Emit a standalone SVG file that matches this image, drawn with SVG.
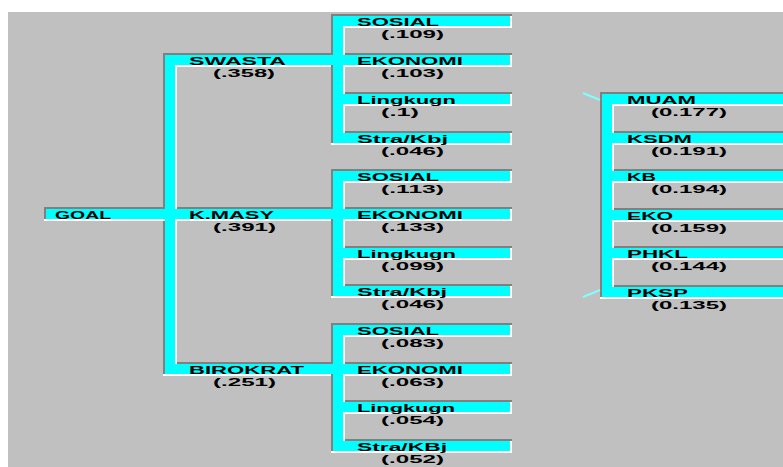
<svg xmlns="http://www.w3.org/2000/svg" width="783" height="467" viewBox="0 0 783 467">
  <style>
    .dk { fill: #808080; }
    .wh { fill: #ffffff; }
    .cy { fill: #00ffff; }
    .dg { stroke: #7fffff; stroke-width: 2; fill: none; }
    text { font-family: "Liberation Sans", Arial, sans-serif; font-weight: bold; font-size: 11.5px; fill: #000; }
  </style>

  <!-- window background -->
  <rect x="0" y="0" width="783" height="467" fill="#ffffff"/>
  <rect x="8" y="12" width="775" height="455" fill="#c0c0c0"/>

  <g id="connectors">
    <!-- dark (upper/left) groove edges -->
    <g class="dk">
      <!-- level 1/2 -->
      <rect x="44" y="207" width="289" height="2"/>
      <rect x="44" y="207" width="2" height="12"/>
      <rect x="163" y="53" width="2" height="321"/>
      <rect x="163" y="53" width="170" height="2"/>
      <rect x="177" y="362" width="154" height="2"/>
      <!-- group 1 -->
      <rect x="331" y="14" width="2" height="129"/>
      <rect x="331" y="14" width="181" height="2"/>
      <rect x="345" y="53" width="167" height="2"/>
      <rect x="345" y="92" width="167" height="2"/>
      <rect x="345" y="131" width="167" height="2"/>
      <!-- group 2 -->
      <rect x="331" y="169" width="2" height="127"/>
      <rect x="331" y="169" width="181" height="2"/>
      <rect x="345" y="207" width="167" height="2"/>
      <rect x="345" y="246" width="167" height="2"/>
      <rect x="345" y="284" width="167" height="2"/>
      <!-- group 3 -->
      <rect x="331" y="323" width="2" height="128"/>
      <rect x="331" y="323" width="181" height="2"/>
      <rect x="345" y="362" width="167" height="2"/>
      <rect x="345" y="400" width="167" height="2"/>
      <rect x="345" y="439" width="167" height="2"/>
      <!-- right group -->
      <rect x="600" y="92" width="2" height="205"/>
      <rect x="600" y="92" width="183" height="2"/>
      <rect x="614" y="131" width="169" height="2"/>
      <rect x="614" y="169" width="169" height="2"/>
      <rect x="614" y="208" width="169" height="2"/>
      <rect x="614" y="246" width="169" height="2"/>
      <rect x="614" y="285" width="169" height="2"/>
    </g>

    <!-- white (lower/right) groove edges -->
    <g class="wh">
      <!-- level 1/2 -->
      <rect x="44" y="219" width="287" height="2"/>
      <rect x="165" y="65" width="166" height="2"/>
      <rect x="175" y="65" width="2" height="299"/>
      <rect x="163" y="374" width="168" height="2"/>
      <!-- group 1 -->
      <rect x="343" y="26" width="2" height="107"/>
      <rect x="343" y="26" width="169" height="2"/>
      <rect x="343" y="65" width="169" height="2"/>
      <rect x="343" y="104" width="169" height="2"/>
      <rect x="331" y="143" width="181" height="2"/>
      <rect x="510" y="16" width="2" height="10"/>
      <rect x="510" y="55" width="2" height="10"/>
      <rect x="510" y="94" width="2" height="10"/>
      <rect x="510" y="133" width="2" height="10"/>
      <!-- group 2 -->
      <rect x="343" y="181" width="2" height="105"/>
      <rect x="343" y="181" width="169" height="2"/>
      <rect x="343" y="219" width="169" height="2"/>
      <rect x="343" y="258" width="169" height="2"/>
      <rect x="331" y="296" width="181" height="2"/>
      <rect x="510" y="171" width="2" height="10"/>
      <rect x="510" y="209" width="2" height="10"/>
      <rect x="510" y="248" width="2" height="10"/>
      <rect x="510" y="286" width="2" height="10"/>
      <!-- group 3 -->
      <rect x="343" y="335" width="2" height="106"/>
      <rect x="343" y="335" width="169" height="2"/>
      <rect x="343" y="374" width="169" height="2"/>
      <rect x="343" y="412" width="169" height="2"/>
      <rect x="331" y="451" width="181" height="2"/>
      <rect x="510" y="325" width="2" height="10"/>
      <rect x="510" y="364" width="2" height="10"/>
      <rect x="510" y="402" width="2" height="10"/>
      <rect x="510" y="441" width="2" height="10"/>
      <!-- right group -->
      <rect x="612" y="104" width="2" height="183"/>
      <rect x="612" y="104" width="171" height="2"/>
      <rect x="612" y="143" width="171" height="2"/>
      <rect x="612" y="181" width="171" height="2"/>
      <rect x="612" y="220" width="171" height="2"/>
      <rect x="612" y="258" width="171" height="2"/>
      <rect x="600" y="297" width="183" height="2"/>
    </g>

    <!-- cyan bars -->
    <g class="cy">
      <!-- GOAL through K.MASY -->
      <rect x="46" y="209" width="287" height="10"/>
      <rect x="165" y="55" width="168" height="10"/>
      <rect x="165" y="364" width="168" height="10"/>
      <rect x="165" y="55" width="10" height="319"/>
      <!-- group 1 -->
      <rect x="333" y="16" width="10" height="127"/>
      <rect x="333" y="16" width="177" height="10"/>
      <rect x="333" y="55" width="177" height="10"/>
      <rect x="333" y="94" width="177" height="10"/>
      <rect x="333" y="133" width="177" height="10"/>
      <!-- group 2 -->
      <rect x="333" y="171" width="10" height="125"/>
      <rect x="333" y="171" width="177" height="10"/>
      <rect x="333" y="209" width="177" height="10"/>
      <rect x="333" y="248" width="177" height="10"/>
      <rect x="333" y="286" width="177" height="10"/>
      <!-- group 3 -->
      <rect x="333" y="325" width="10" height="126"/>
      <rect x="333" y="325" width="177" height="10"/>
      <rect x="333" y="364" width="177" height="10"/>
      <rect x="333" y="402" width="177" height="10"/>
      <rect x="333" y="441" width="177" height="10"/>
      <!-- right group -->
      <rect x="602" y="94" width="10" height="203"/>
      <rect x="602" y="94" width="181" height="10"/>
      <rect x="602" y="133" width="181" height="10"/>
      <rect x="602" y="171" width="181" height="10"/>
      <rect x="602" y="210" width="181" height="10"/>
      <rect x="602" y="248" width="181" height="10"/>
      <rect x="602" y="287" width="181" height="10"/>
    </g>

    <!-- stub ends entering the right group -->
    <line class="dg" x1="583" y1="93" x2="600" y2="100"/>
    <line class="dg" x1="583" y1="297" x2="600" y2="290"/>
  </g>

  <!-- level 1 -->
  <g id="goal"><text x="55" y="219" textLength="56" lengthAdjust="spacingAndGlyphs">GOAL</text></g>

  <!-- level 2 -->
  <g id="swasta">
    <text x="189" y="65" textLength="97" lengthAdjust="spacingAndGlyphs">SWASTA</text>
    <text x="213" y="77" textLength="62" lengthAdjust="spacingAndGlyphs">(.358)</text>
  </g>
  <g id="kmasy">
    <text x="189" y="219" textLength="85" lengthAdjust="spacingAndGlyphs">K.MASY</text>
    <text x="213" y="231" textLength="63" lengthAdjust="spacingAndGlyphs">(.391)</text>
  </g>
  <g id="birokrat">
    <text x="189" y="374" textLength="115" lengthAdjust="spacingAndGlyphs">BIROKRAT</text>
    <text x="213" y="386" textLength="63" lengthAdjust="spacingAndGlyphs">(.251)</text>
  </g>

  <!-- level 3, under SWASTA -->
  <g id="swasta-sosial">
    <text x="357" y="26" textLength="82" lengthAdjust="spacingAndGlyphs">SOSIAL</text>
    <text x="381" y="38" textLength="63" lengthAdjust="spacingAndGlyphs">(.109)</text>
  </g>
  <g id="swasta-ekonomi">
    <text x="357" y="65" textLength="106" lengthAdjust="spacingAndGlyphs">EKONOMI</text>
    <text x="381" y="77" textLength="63" lengthAdjust="spacingAndGlyphs">(.103)</text>
  </g>
  <g id="swasta-lingkugn">
    <text x="357" y="104" textLength="99" lengthAdjust="spacingAndGlyphs">Lingkugn</text>
    <text x="381" y="116" textLength="38" lengthAdjust="spacingAndGlyphs">(.1)</text>
  </g>
  <g id="swasta-strakbj">
    <text x="357" y="143" textLength="91" lengthAdjust="spacingAndGlyphs">Stra/Kbj</text>
    <text x="381" y="155" textLength="63" lengthAdjust="spacingAndGlyphs">(.046)</text>
  </g>

  <!-- level 3, under K.MASY -->
  <g id="kmasy-sosial">
    <text x="357" y="181" textLength="82" lengthAdjust="spacingAndGlyphs">SOSIAL</text>
    <text x="381" y="193" textLength="63" lengthAdjust="spacingAndGlyphs">(.113)</text>
  </g>
  <g id="kmasy-ekonomi">
    <text x="357" y="219" textLength="106" lengthAdjust="spacingAndGlyphs">EKONOMI</text>
    <text x="381" y="231" textLength="63" lengthAdjust="spacingAndGlyphs">(.133)</text>
  </g>
  <g id="kmasy-lingkugn">
    <text x="357" y="258" textLength="99" lengthAdjust="spacingAndGlyphs">Lingkugn</text>
    <text x="381" y="270" textLength="63" lengthAdjust="spacingAndGlyphs">(.099)</text>
  </g>
  <g id="kmasy-strakbj">
    <text x="357" y="296" textLength="90" lengthAdjust="spacingAndGlyphs">Stra/Kbj</text>
    <text x="381" y="308" textLength="63" lengthAdjust="spacingAndGlyphs">(.046)</text>
  </g>

  <!-- level 3, under BIROKRAT -->
  <g id="birokrat-sosial">
    <text x="357" y="335" textLength="82" lengthAdjust="spacingAndGlyphs">SOSIAL</text>
    <text x="381" y="347" textLength="63" lengthAdjust="spacingAndGlyphs">(.083)</text>
  </g>
  <g id="birokrat-ekonomi">
    <text x="357" y="374" textLength="106" lengthAdjust="spacingAndGlyphs">EKONOMI</text>
    <text x="381" y="386" textLength="63" lengthAdjust="spacingAndGlyphs">(.063)</text>
  </g>
  <g id="birokrat-lingkugn">
    <text x="357" y="412" textLength="98" lengthAdjust="spacingAndGlyphs">Lingkugn</text>
    <text x="381" y="424" textLength="63" lengthAdjust="spacingAndGlyphs">(.054)</text>
  </g>
  <g id="birokrat-strakbj">
    <text x="357" y="451" textLength="90" lengthAdjust="spacingAndGlyphs">Stra/KBj</text>
    <text x="381" y="463" textLength="63" lengthAdjust="spacingAndGlyphs">(.052)</text>
  </g>

  <!-- right-hand criteria -->
  <g id="muam">
    <text x="627" y="104" textLength="69" lengthAdjust="spacingAndGlyphs">MUAM</text>
    <text x="651" y="116" textLength="76" lengthAdjust="spacingAndGlyphs">(0.177)</text>
  </g>
  <g id="ksdm">
    <text x="627" y="143" textLength="65" lengthAdjust="spacingAndGlyphs">KSDM</text>
    <text x="651" y="155" textLength="76" lengthAdjust="spacingAndGlyphs">(0.191)</text>
  </g>
  <g id="kb">
    <text x="627" y="181" textLength="29" lengthAdjust="spacingAndGlyphs">KB</text>
    <text x="651" y="193" textLength="76" lengthAdjust="spacingAndGlyphs">(0.194)</text>
  </g>
  <g id="eko">
    <text x="627" y="220" textLength="46" lengthAdjust="spacingAndGlyphs">EKO</text>
    <text x="651" y="232" textLength="76" lengthAdjust="spacingAndGlyphs">(0.159)</text>
  </g>
  <g id="phkl">
    <text x="627" y="258" textLength="61" lengthAdjust="spacingAndGlyphs">PHKL</text>
    <text x="651" y="270" textLength="76" lengthAdjust="spacingAndGlyphs">(0.144)</text>
  </g>
  <g id="pksp">
    <text x="627" y="297" textLength="61" lengthAdjust="spacingAndGlyphs">PKSP</text>
    <text x="651" y="309" textLength="76" lengthAdjust="spacingAndGlyphs">(0.135)</text>
  </g>
</svg>
